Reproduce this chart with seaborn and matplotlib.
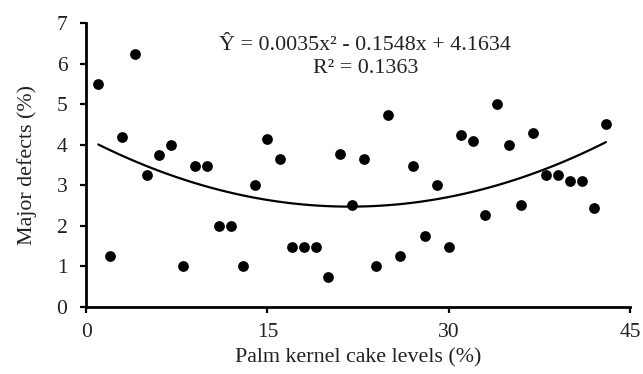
import matplotlib
import numpy as np
import pandas as pd
import seaborn as sns
from matplotlib import pyplot as plt

matplotlib.use('agg')

# palm kernel cake level (%) and major defects (%)
pkc_levels = list(range(1, 44))
major_defects = [
    5.49, 1.24, 4.20, 6.24, 3.25, 3.75, 3.99, 1.01, 3.48, 3.48,
    1.99, 1.99, 1.01, 3.01, 4.13, 3.65, 1.48, 1.48, 1.48, 0.73,
    3.76, 2.50, 3.65, 1.01, 4.74, 1.24, 3.48, 1.75, 3.01, 1.48,
    4.23, 4.09, 2.26, 5.01, 3.99, 2.50, 4.30, 3.25, 3.25, 3.11,
    3.11, 2.43, 4.50,
]
x_ticks = [0, 15, 30, 45]
y_ticks = [0, 1, 2, 3, 4, 5, 6, 7]
equation = "Ŷ = 0.0035x² - 0.1548x + 4.1634"
r_squared = "R² = 0.1363"

df = pd.DataFrame({"pkc": pkc_levels, "defects": major_defects})

sns.set_theme(style="ticks")
plt.rcParams['font.family'] = ['Liberation Serif', 'DejaVu Serif']

fig = plt.figure(figsize=(6.43, 3.74), dpi=100)
ax = fig.add_axes([0.134, 0.18, 0.846, 0.758])

sns.regplot(data=df, x="pkc", y="defects", order=2, ci=None, ax=ax,
            scatter_kws={"s": 60, "color": "black", "alpha": 1, "linewidths": 0},
            line_kws={"color": "black", "lw": 1.6})

ax.set_xlim(0, 45)
ax.set_ylim(0, 7)
ax.set_xticks(x_ticks)
ax.set_yticks(y_ticks)
ax.tick_params(axis='both', labelsize=15.5, width=1.6, length=4.5, color='black',
               labelcolor='#222222', direction='out')
ax.tick_params(axis='y', pad=9)
ax.tick_params(axis='x', pad=7)
for side in ['left', 'bottom']:
    ax.spines[side].set_linewidth(2)
    ax.spines[side].set_color('black')
sns.despine(ax=ax)

ax.set_xlabel("Palm kernel cake levels (%)", fontsize=15.8, color='#222222', labelpad=5)
ax.set_ylabel("Major defects (%)", fontsize=15.8, color='#222222', labelpad=14)

ax.text(23.1, 6.46, equation, ha='center', va='center', fontsize=15.8, color='#222222')
ax.text(23.1, 5.87, r_squared, ha='center', va='center', fontsize=15.8, color='#222222')

fig.savefig("out.png", dpi=100)
plt.close(fig)
